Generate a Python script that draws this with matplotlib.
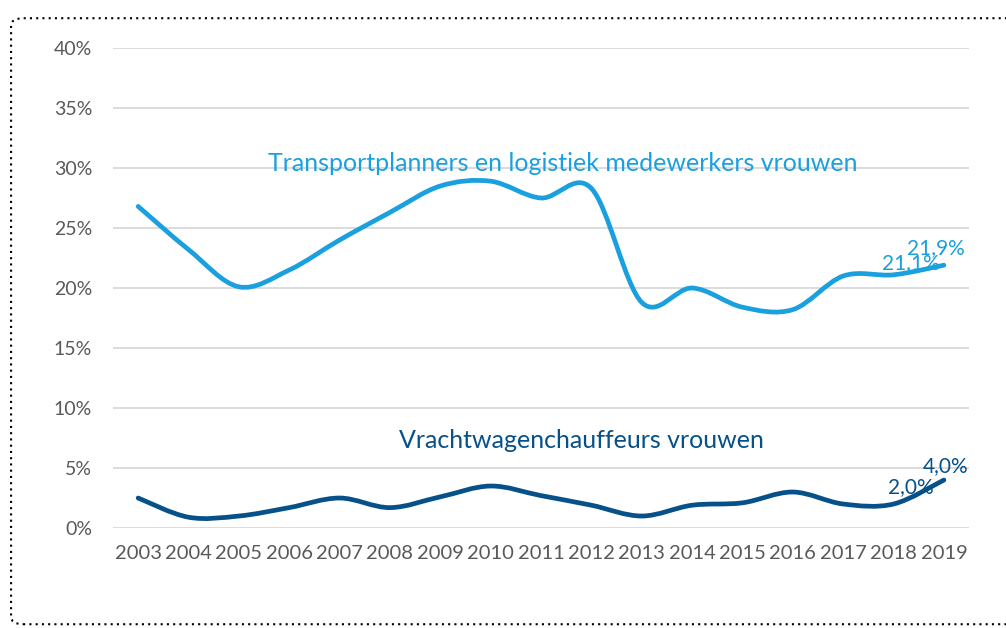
import numpy as np
import matplotlib.pyplot as plt
from matplotlib.path import Path
from matplotlib.patches import PathPatch, FancyBboxPatch

plt.rcParams['font.family'] = ['Lato', 'DejaVu Sans']

jaren = [2003, 2004, 2005, 2006, 2007, 2008, 2009, 2010, 2011,
         2012, 2013, 2014, 2015, 2016, 2017, 2018, 2019]
planners = [26.8, 23.2, 20.1, 21.5, 24.0, 26.3, 28.5, 28.9, 27.5,
            28.3, 18.8, 20.0, 18.4, 18.2, 21.0, 21.1, 21.9]
chauffeurs = [2.5, 0.9, 1.0, 1.7, 2.5, 1.7, 2.6, 3.5, 2.7,
              1.9, 1.0, 1.9, 2.1, 3.0, 2.0, 2.0, 4.0]

licht = '#1AA0DF'
donker = '#06518A'
grijs = '#595959'


def glad_pad(x, y):
    # Excel-achtige vloeiende lijn (Catmull-Rom als Bezier)
    x = np.asarray(x, float)
    y = np.asarray(y, float)
    verts = [(x[0], y[0])]
    codes = [Path.MOVETO]
    n = len(x)
    for i in range(n - 1):
        p0 = (x[max(i - 1, 0)], y[max(i - 1, 0)])
        p1 = (x[i], y[i])
        p2 = (x[i + 1], y[i + 1])
        p3 = (x[min(i + 2, n - 1)], y[min(i + 2, n - 1)])
        c1 = (p1[0] + (p2[0] - p0[0]) / 6, p1[1] + (p2[1] - p0[1]) / 6)
        c2 = (p2[0] - (p3[0] - p1[0]) / 6, p2[1] - (p3[1] - p1[1]) / 6)
        verts += [c1, c2, p2]
        codes += [Path.CURVE4] * 3
    return Path(verts, codes)


fig = plt.figure(figsize=(10.06, 6.28), dpi=100)
ax = fig.add_axes([0.1123, 0.1592, 0.851, 0.7644])

for reeks, kleur in [(planners, licht), (chauffeurs, donker)]:
    ax.add_patch(PathPatch(glad_pad(jaren, reeks), facecolor='none',
                           edgecolor=kleur, lw=3.4, capstyle='round',
                           joinstyle='round', zorder=3))

ax.set_xlim(2002.5, 2019.5)
ax.set_ylim(0, 40)
ax.set_xticks(jaren)
ax.set_xticklabels([str(j) for j in jaren])
ax.set_yticks(range(0, 41, 5))
ax.set_yticklabels([f'{v}%' for v in range(0, 41, 5)])
ax.tick_params(length=0, labelsize=14.5, labelcolor=grijs)
ax.tick_params(axis='x', pad=12)
ax.tick_params(axis='y', pad=15, labelsize=14)
ax.grid(axis='y', color='#D9D9D9', lw=1.3)
ax.set_axisbelow(True)
for s in ax.spines.values():
    s.set_visible(False)

ax.text(2011.43, 30.4, 'Transportplanners en logistiek medewerkers vrouwen',
        color=licht, fontsize=18, ha='center', va='center')
ax.text(2011.8, 7.3, 'Vrachtwagenchauffeurs vrouwen',
        color=donker, fontsize=18, ha='center', va='center')

ax.text(jaren[-1] - 0.15, planners[-1] + 1.4, '21,9%', color=licht,
        fontsize=15, ha='center', va='center')
ax.text(jaren[-2] + 0.35, planners[-2] + 1.0, '21,1%', color=licht,
        fontsize=15, ha='center', va='center')
ax.text(jaren[-1] + 0.03, chauffeurs[-1] + 1.2, '4,0%', color=donker,
        fontsize=15, ha='center', va='center')
ax.text(jaren[-2] + 0.35, chauffeurs[-2] + 1.4, '2,0%', color=donker,
        fontsize=15, ha='center', va='center')

rand = FancyBboxPatch((0.011, 0.006), 1.2, 0.965, transform=fig.transFigure,
                      boxstyle='round,pad=0,rounding_size=0.012',
                      facecolor='none', edgecolor='black', lw=1.5,
                      linestyle=(0, (1, 2)), clip_on=False)
fig.patches.append(rand)

fig.savefig('out.png', dpi=100)
